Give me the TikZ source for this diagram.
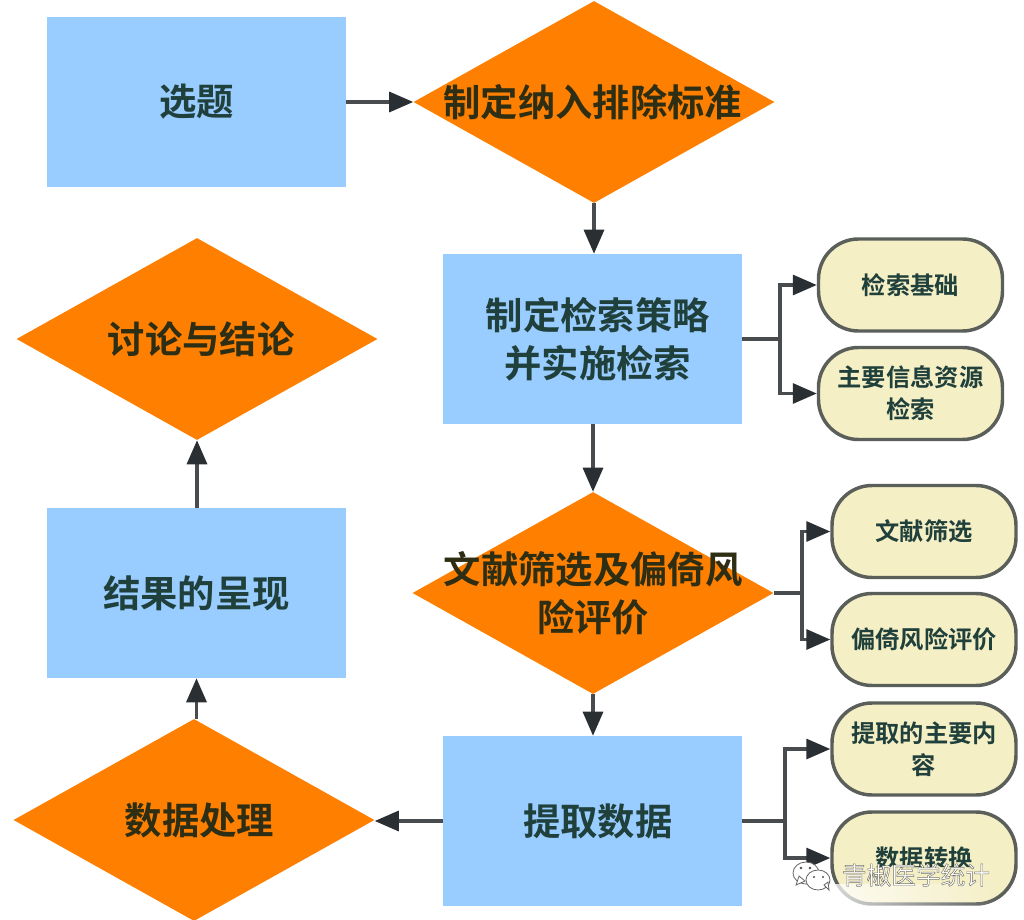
\documentclass[tikz,border=0pt]{standalone}
\usepackage{fontspec}
\usetikzlibrary{shapes.geometric,arrows.meta,fadings}
\setmainfont{Noto Sans CJK SC}[BoldFont={* Bold}]
\newfontfamily\cjk{Noto Sans CJK SC}
\definecolor{stepblue}{HTML}{99CCFF}
\definecolor{steporange}{HTML}{FF8000}
\definecolor{pillfill}{HTML}{F5EFC6}
\definecolor{pillline}{HTML}{5A5F5A}
\definecolor{inktext}{HTML}{20403C}
\definecolor{inkdark}{HTML}{2E2E14}
\definecolor{linkline}{HTML}{484C4E}
\definecolor{linktip}{HTML}{2A2F33}
\tikzset{
  x=0.75pt,y=-0.75pt,
  stepbox/.style={rectangle,fill=stepblue,minimum width=224.25pt,minimum height=127.5pt,inner sep=0pt},
  choicebox/.style={diamond,fill=steporange,minimum width=270.75pt,minimum height=151.5pt,inner sep=0pt,aspect=1.78},
  steptext/.style={align=center,text=inktext,font=\fontsize{28pt}{36pt}\selectfont\bfseries,inner sep=0pt},
  choicetext/.style={align=center,text=inkdark,font=\fontsize{28pt}{36pt}\selectfont\bfseries,inner sep=0pt},
  pillbox/.style={rectangle,rounded corners=30pt,fill=pillfill,draw=pillline,line width=2.6pt,
    minimum width=138pt,minimum height=69pt,inner sep=0pt,align=center,text=inktext,
    font=\fontsize{18.2pt}{24pt}\selectfont\bfseries},
  link/.style={draw=linkline,line width=2.4pt,-{Triangle[length=18pt,width=15pt,color=linktip]}},
  bubble/.style={fill=white,draw=gray!80!black,line width=0.6pt},
}
\begin{document}
\begin{tikzpicture}
\useasboundingbox (0,0) rectangle (1024,920);
\fill[white] (0,0) rectangle (1024,920);

% main process
\node[stepbox,label={[steptext]center:选题}] (topic) at (196.5,102) {};
\node[choicebox,label={[choicetext,xshift=-1pt]center:制定纳入排除标准}] (criteria) at (594,102) {};
\node[stepbox,label={[steptext,xshift=4pt]center:制定检索策略\\并实施检索}] (search) at (592.5,339) {};
\node[choicebox,label={[choicetext]center:文献筛选及偏倚风\\险评价}] (screen) at (593,593) {};
\node[stepbox,label={[steptext,xshift=4pt]center:提取数据}] (extract) at (592.5,821) {};
\node[choicebox,label={[choicetext,xshift=4pt]center:数据处理}] (data) at (194,820) {};
\node[stepbox,label={[steptext]center:结果的呈现}] (result) at (196.5,593) {};
\node[choicebox,label={[choicetext,xshift=3pt]center:讨论与结论}] (discuss) at (197,339) {};

% side notes
\node[pillbox] (basic) at (910.5,285) {检索基础};
\node[pillbox] (source) at (910.5,393.5) {主要信息资源\\检索};
\node[pillbox] (filter) at (924,531.5) {文献筛选};
\node[pillbox] (bias) at (924,639.5) {偏倚风险评价};
\node[pillbox] (content) at (924,749) {提取的主要内\\容};
\node[pillbox] (convert) at (924,858) {数据转换};

% main flow
\draw[link] (topic.east) -- (criteria.west);
\draw[link] (criteria.south) -- (search.north -| criteria.south);
\draw[link] (search.south -| screen.north) -- (screen.north);
\draw[link] (screen.south) -- (extract.north -| screen.south);
\draw[link] (extract.west) -- (extract.west -| data.east);
\draw[link] (data.north -| result.south) -- (result.south);
\draw[link] (result.north -| discuss.south) -- (discuss.south);

% branches to the side notes
\coordinate (forkA) at (780,339);
\coordinate (forkB) at (802,593);
\coordinate (forkC) at (785,821);
\draw[link] (search.east) -- (forkA) |- (basic.west);
\draw[link] (search.east) -- (forkA) |- (source.west);
\draw[link] (screen.east) -- (forkB) |- (filter.west);
\draw[link] (screen.east) -- (forkB) |- (bias.west);
\draw[link] (extract.east) -- (forkC) |- (content.west);
\draw[link] (extract.east) -- (forkC) |- (convert.west);

% washed-out band behind the account mark
\fill[pillfill,opacity=0.85] (868,867) rectangle (985,892);
\fill[white,path fading=east] (780,884) rectangle (1000,920);
\fill[white] (780,908) rectangle (1024,920);

% account mark, bottom right
\filldraw[bubble] (806,873) ellipse (13 and 11);
\filldraw[bubble] (796,885) -- (799,876) -- (805,881) -- cycle;
\filldraw[bubble] (818,880) ellipse (12 and 10);
\filldraw[bubble] (829,890) -- (824,885) -- (828,882) -- cycle;
\fill[gray!60!black] (801,868) circle (1.3) (810,868) circle (1.3) (814,877) circle (1.2) (823,877) circle (1.2);
\node[text=white,inner sep=0pt,font=\cjk\fontsize{18.5pt}{22pt}\selectfont] (account) at (916,875)
  {\special{pdf:code q 2 Tr 0.35 w 0.45 0.45 0.42 RG}青椒医学统计\special{pdf:code Q}};
\end{tikzpicture}
\end{document}
